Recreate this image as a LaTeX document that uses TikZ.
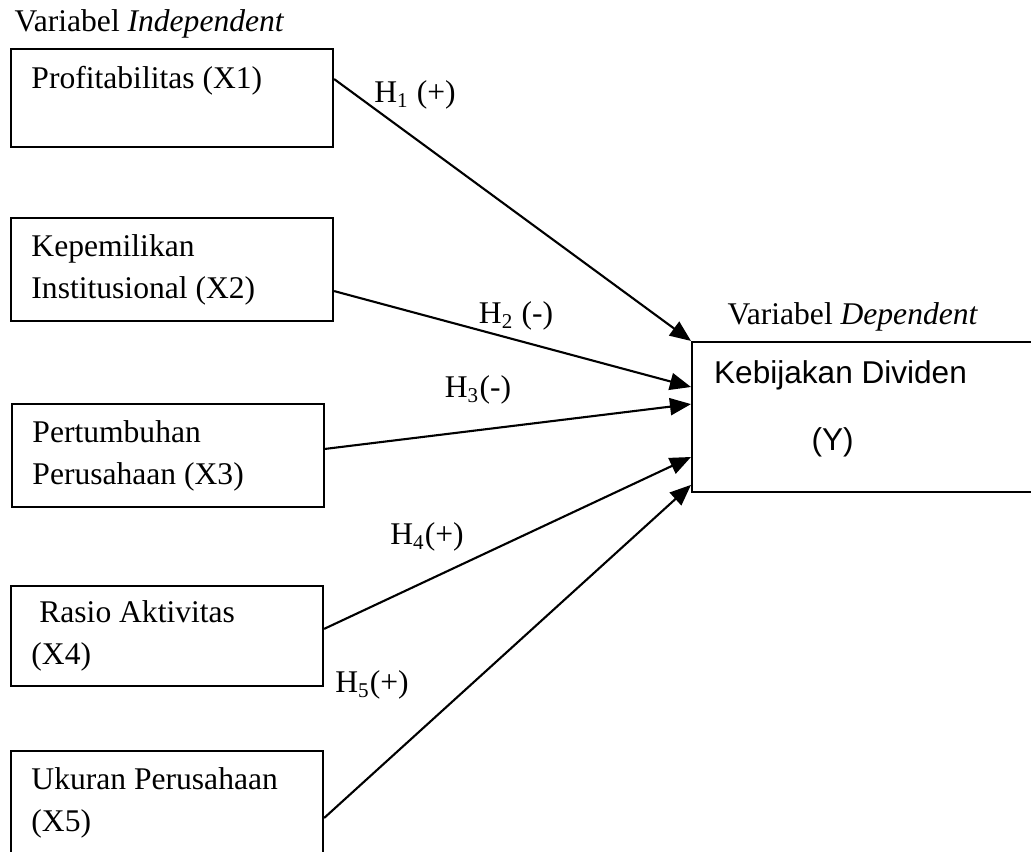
\documentclass[tikz,border=0pt]{standalone}
\usepackage{fontspec}
\setmainfont{Liberation Serif}
\newfontfamily\arialfont{Liberation Sans}
\usetikzlibrary{arrows.meta}
\tikzset{
	varbox/.style={draw=black,line width=0.8pt,rectangle,align=flush left,inner xsep=7.8pt,inner ysep=0pt,text width=106.8pt},
	narrowbox/.style={varbox,text width=103pt},
	depbox/.style={draw=black,line width=0.8pt,rectangle,align=flush left,inner xsep=8.4pt,inner ysep=0pt,text width=117.3pt,minimum height=57pt,font=\arialfont\fontsize{12}{16}\selectfont},
	hyp/.style={inner sep=0pt},
	arr/.style={line width=0.8pt,-{Triangle[length=8pt,width=6.5pt]}}
}
\begin{document}
\begin{tikzpicture}[x=0.38pt,y=-0.38pt,font=\fontsize{12}{16}\selectfont]
		\useasboundingbox (0,0) rectangle (1031,852);
		\clip (0,0) rectangle (1031,852);
		
		\node[anchor=base west,inner sep=0pt] (indep) at (14,32) {Variabel \textit{Independent}};
		
		\node[varbox,minimum height=37.2pt] (x1) at (172,98) {Profitabilitas (X1)\\\mbox{}};
		\node[varbox,minimum height=39.1pt] (x2) at (172,269.5) {Kepemilikan\\Institusional (X2)};
		\node[narrowbox,minimum height=39.1pt] (x3) at (168,455.5) {Pertumbuhan\\Perusahaan (X3)};
		\node[narrowbox,minimum height=38pt] (x4) at (167,636) {\hspace*{3pt}Rasio Aktivitas\\(X4)};
		\node[narrowbox,minimum height=39.1pt] (x5) at (167,802.5) {Ukuran Perusahaan\\(X5)};
		
		\node[anchor=base west,inner sep=0pt] (dep) at (727,325) {Variabel \textit{Dependent}};
		
		\node[depbox] (y) at (868.5,417) {Kebijakan Dividen\\[9.8pt]\hspace*{37pt}(Y)\rule[-8.7pt]{0pt}{8.7pt}};
		
		\draw[arr] ([yshift=7.2pt]x1.east) -- (y.north west);
		\draw[arr] ([yshift=-8.2pt]x2.east) -- ([yshift=11.4pt]y.west);
		\draw[arr] ([yshift=2.5pt]x3.east) -- ([yshift=4.9pt]y.west);
		\draw[arr] ([yshift=2.7pt]x4.east) -- ([yshift=-15.2pt]y.west);
		\draw[arr] ([yshift=-5.9pt]x5.east) -- ([yshift=-25.8pt]y.west);
		
		\node[hyp] (h1) at (415,95) {H\textsubscript{1} (+)};
		\node[hyp] (h2) at (516,316) {H\textsubscript{2} (-)};
		\node[hyp] (h3) at (478,390) {H\textsubscript{3}(-)};
		\node[hyp] (h4) at (427,537) {H\textsubscript{4}(+)};
		\node[hyp] (h5) at (372,685) {H\textsubscript{5}(+)};
	\end{tikzpicture}
\end{document}
